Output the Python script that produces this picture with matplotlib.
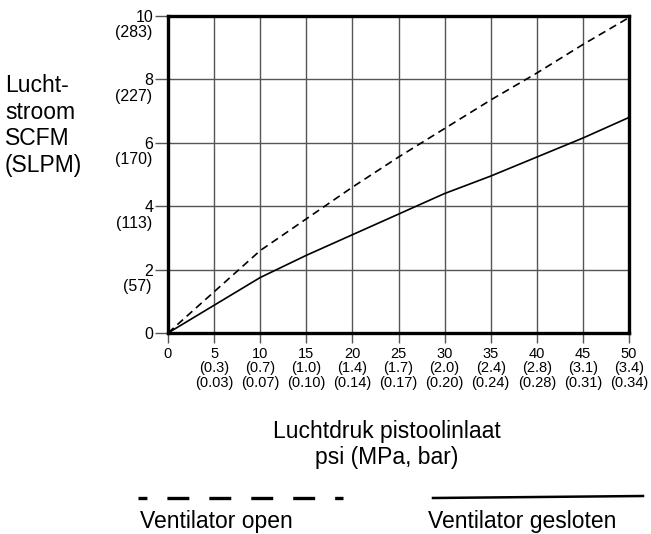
"""Airflow vs inlet pressure chart (Dutch labels)."""

import matplotlib
matplotlib.use("Agg")
import matplotlib.pyplot as plt
from matplotlib.lines import Line2D
from matplotlib.transforms import offset_copy

plt.rcParams["font.family"] = ["Liberation Sans", "DejaVu Sans"]
plt.rcParams["lines.scale_dashes"] = False

# data
psi = [0, 10, 15, 20, 25, 30, 35, 40, 45, 50]
flow_open = [0, 2.6, 3.6, 4.6, 5.55, 6.45, 7.35, 8.2, 9.1, 9.95]
flow_closed = [0, 1.75, 2.45, 3.1, 3.75, 4.4, 4.95, 5.55, 6.15, 6.8]

x_ticks = [0, 5, 10, 15, 20, 25, 30, 35, 40, 45, 50]
x_mpa = ["", "0.3", "0.7", "1.0", "1.4", "1.7", "2.0", "2.4", "2.8", "3.1", "3.4"]
x_bar = ["", "0.03", "0.07", "0.10", "0.14", "0.17", "0.20", "0.24", "0.28", "0.31", "0.34"]
y_ticks = [0, 2, 4, 6, 8, 10]
y_slpm = ["", "57", "113", "170", "227", "283"]

W, H = 651, 534
fig = plt.figure(figsize=(W / 100, H / 100), dpi=100)
ax = fig.add_axes([168 / W, 1 - 333 / H, (629 - 168) / W, (333 - 16) / H])

ax.plot(psi, flow_open, color="black", lw=1.2, linestyle=(0, (5.5, 3.5)))
ax.plot(psi, flow_closed, color="black", lw=1.2)

ax.set_xlim(0, 50)
ax.set_ylim(0, 10)
ax.set_xticks(x_ticks)
ax.set_yticks(y_ticks)
ax.grid(True, color="#555555", lw=1.0)
ax.set_axisbelow(True)
for s in ax.spines.values():
    s.set_linewidth(2.4)
    s.set_color("black")

xlabels = []
for t, m, b in zip(x_ticks, x_mpa, x_bar):
    xlabels.append(str(t) if not m else f"{t}\n({m})\n({b})")
ax.set_xticklabels(xlabels, fontsize=10.5, linespacing=1.05)
ax.tick_params(axis="x", length=7, width=1.0, color="#555555", pad=3)
ax.set_yticklabels([str(v) for v in y_ticks], fontsize=11.5)
ax.tick_params(axis="y", length=9.5, width=1.0, color="#555555", pad=1)

# SLPM values under the SCFM tick labels
tr = offset_copy(ax.get_yaxis_transform(), fig=fig, x=-16, y=-17, units="dots")
for v, s in zip(y_ticks, y_slpm):
    if s:
        ax.text(0, v, f"({s})", transform=tr, ha="right", va="center", fontsize=11.5)

fig.text(5 / W, 1 - 74 / H, "Lucht-\nstroom\nSCFM\n(SLPM)", ha="left", va="top",
         fontsize=16.5, linespacing=1.2)

fig.text(387 / W, 1 - 420 / H, "Luchtdruk pistoolinlaat\npsi (MPa, bar)", ha="center",
         va="top", fontsize=16.5, linespacing=1.15)

# legend drawn below the chart
fig.add_artist(Line2D([138 / W, 343 / W], [1 - 498 / H, 1 - 498 / H], color="black",
                      lw=2.4, linestyle=(9.4, (15.8, 14.4))))
fig.add_artist(Line2D([433 / W, 643 / W], [1 - 498 / H, 1 - 496 / H], color="black", lw=1.8))
fig.text(140 / W, 1 - 528 / H, "Ventilator open", ha="left", va="baseline", fontsize=16.5)
fig.text(428 / W, 1 - 528 / H, "Ventilator gesloten", ha="left", va="baseline", fontsize=16.5)

fig.savefig("out.png", dpi=100)
